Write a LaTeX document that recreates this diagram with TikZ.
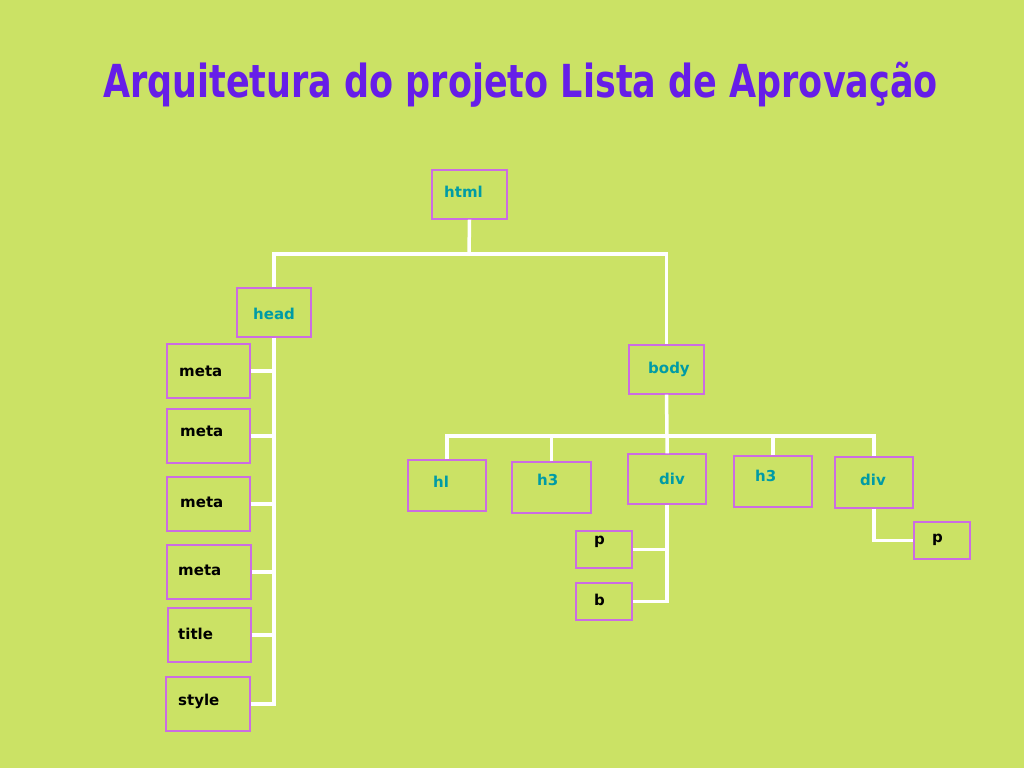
\documentclass[tikz,border=0pt]{standalone}
\usepackage{fontspec}
\setmainfont{DejaVu Sans}
\usepackage{graphicx}
\definecolor{bg}{RGB}{203,226,101}
\definecolor{titlec}{RGB}{102,30,232}
\definecolor{boxc}{RGB}{204,108,226}
\definecolor{teal2}{RGB}{0,155,165}
\tikzset{
  box/.style={draw=boxc, line width=1.3pt, inner sep=0pt, fill=none},
  lab/.style={anchor=mid west, inner sep=0pt, font=\fontsize{15}{17}\selectfont\bfseries},
  tlab/.style={lab, text=teal2},
  blab/.style={lab, text=black},
  conn/.style={draw=white, line width=3.5pt},
}
\begin{document}
\begin{tikzpicture}[x=1pt,y=-1pt]
\fill[bg] (0,0) rectangle (1024,768);
\useasboundingbox (0,0) rectangle (1024,768);

\node[anchor=base, inner sep=0pt, text=titlec] (ttl) at (520.5,97)
  {\scalebox{1}[1.3]{\fontsize{35}{40}\selectfont\bfseries Arquitetura do projeto Lista de Aprovação}};

% boxes
\node[box, minimum width=75pt, minimum height=49pt] (html) at (469.5,194.5) {};
\node[box, minimum width=74pt, minimum height=49pt] (head) at (274,312.5) {};
\node[box, minimum width=83pt, minimum height=54pt] (meta1) at (208.5,371) {};
\node[box, minimum width=83pt, minimum height=54pt] (meta2) at (208.5,436) {};
\node[box, minimum width=83pt, minimum height=54pt] (meta3) at (208.5,504) {};
\node[box, minimum width=84pt, minimum height=54pt] (meta4) at (209,572) {};
\node[box, minimum width=83pt, minimum height=54pt] (titleb) at (209.5,635) {};
\node[box, minimum width=84pt, minimum height=54pt] (style) at (208,704) {};
\node[box, minimum width=75pt, minimum height=49pt] (body) at (666.5,369.5) {};
\node[box, minimum width=78pt, minimum height=51pt] (h1) at (447,485.5) {};
\node[box, minimum width=79pt, minimum height=51pt] (h3a) at (551.5,487.5) {};
\node[box, minimum width=78pt, minimum height=50pt] (div1) at (667,479) {};
\node[box, minimum width=78pt, minimum height=51pt] (h3b) at (773,481.5) {};
\node[box, minimum width=78pt, minimum height=51pt] (div2) at (874,482.5) {};
\node[box, minimum width=56pt, minimum height=37pt] (p1) at (604,549.5) {};
\node[box, minimum width=56pt, minimum height=37pt] (b) at (604,601.5) {};
\node[box, minimum width=56pt, minimum height=37pt] (p2) at (942,540.5) {};

% labels
\node[tlab] (html-t) at (444,195) {html};
\node[tlab] (head-t) at (253,317) {head};
\node[blab] (meta1-t) at (179,374) {meta};
\node[blab] (meta2-t) at (180,434) {meta};
\node[blab] (meta3-t) at (180,505) {meta};
\node[blab] (meta4-t) at (178,573) {meta};
\node[blab] (titleb-t) at (178,637) {title};
\node[blab] (style-t) at (178,703) {style};
\node[tlab] (body-t) at (648,371) {body};
\node[tlab] (h1-t) at (433,485) {hl};
\node[tlab] (h3a-t) at (537,483) {h3};
\node[tlab] (div1-t) at (659,482) {div};
\node[tlab] (h3b-t) at (755,479) {h3};
\node[tlab] (div2-t) at (860,483) {div};
\node[blab] (p1-t) at (594,542) {p};
\node[blab] (b-t) at (594,603) {b};
\node[blab] (p2-t) at (932,540) {p};

% connectors
\coordinate (hb) at (469,254);
\draw[conn] (html.south) -- (hb);
\draw[conn] (head.north) |- (hb) -| (body.north);

\draw[conn] (head.south) -- (head.south |- style.east) -- (style.east);
\foreach \n in {meta1,meta2,meta3,meta4,titleb}
  \draw[conn] (\n.east) -- (\n.east -| head.south);

\coordinate (bb) at (667,436);
\draw[conn] (body.south) -- (bb) -- (div1.north);
\draw[conn] (h1.north) |- (bb) -| (div2.north);
\draw[conn] (h3a.north) -- (h3a.north |- bb);
\draw[conn] (h3b.north) -- (h3b.north |- bb);

\draw[conn] (div1.south) |- (b.east);
\draw[conn] (p1.east) -- (p1.east -| div1.south);
\draw[conn] (div2.south) |- (p2.west);
\end{tikzpicture}
\end{document}
